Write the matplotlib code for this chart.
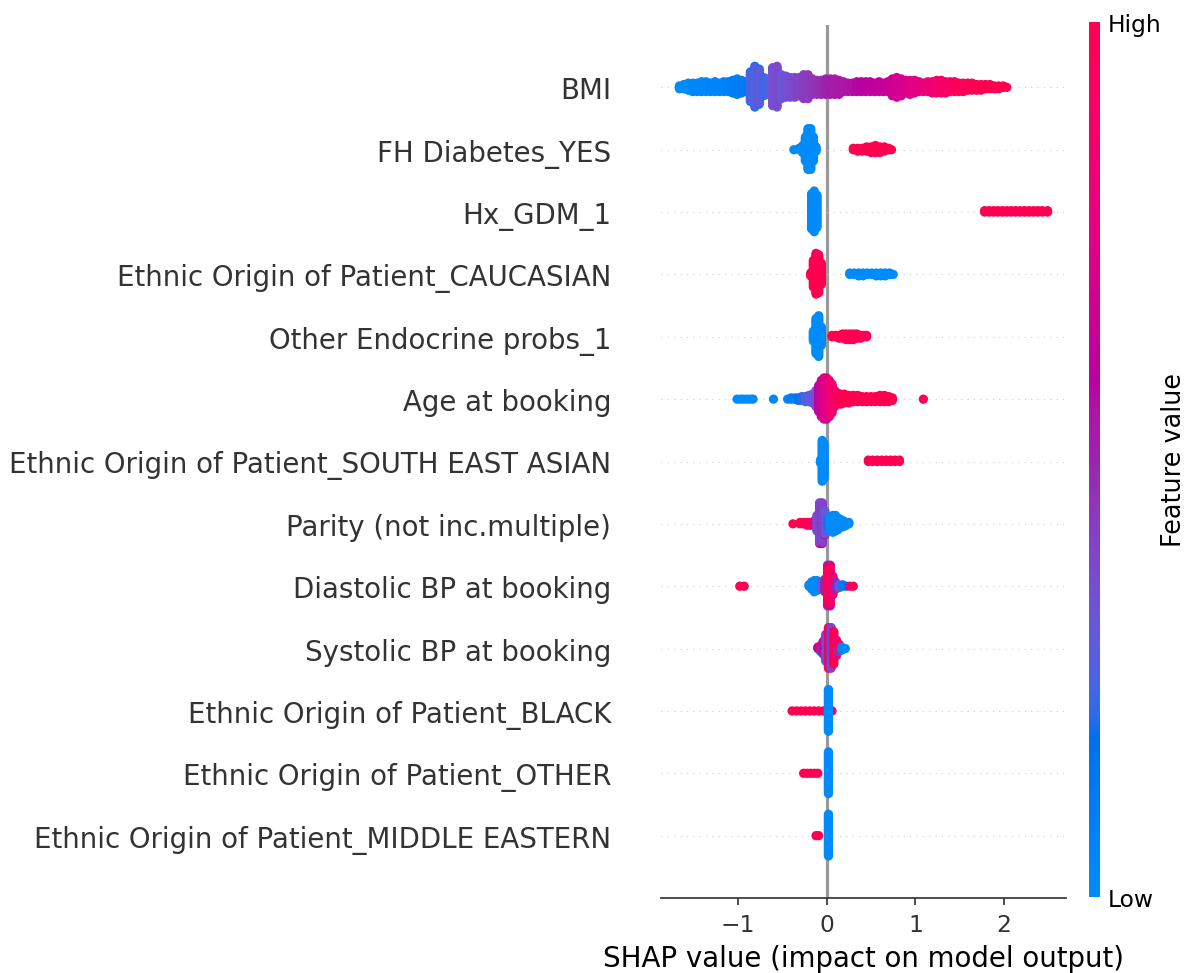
import numpy as np
import matplotlib
matplotlib.use("Agg")
import matplotlib.pyplot as plt
from matplotlib.colors import LinearSegmentedColormap
from matplotlib import cm

# feature names, top row first
feature_names = [
    "BMI",
    "FH Diabetes_YES",
    "Hx_GDM_1",
    "Ethnic Origin of Patient_CAUCASIAN",
    "Other Endocrine probs_1",
    "Age at booking",
    "Ethnic Origin of Patient_SOUTH EAST ASIAN",
    "Parity (not inc.multiple)",
    "Diastolic BP at booking",
    "Systolic BP at booking",
    "Ethnic Origin of Patient_BLACK",
    "Ethnic Origin of Patient_OTHER",
    "Ethnic Origin of Patient_MIDDLE EASTERN",
]

# (shap value, number of samples, normalised feature value)
bmi = [
    (-1.66, 3, 0.0), (-1.61, 4, 0.0), (-1.56, 6, 0.0), (-1.51, 7, 0.02), (-1.46, 7, 0.02),
    (-1.41, 8, 0.03), (-1.36, 8, 0.03), (-1.31, 7, 0.04), (-1.26, 8, 0.05), (-1.21, 7, 0.05),
    (-1.16, 8, 0.06), (-1.11, 8, 0.07), (-1.06, 10, 0.08), (-1.01, 12, 0.09), (-0.96, 10, 0.10),
    (-0.91, 8, 0.12), (-0.86, 12, 0.12), (-0.86, 10, 0.25), (-0.81, 16, 0.14), (-0.81, 14, 0.28),
    (-0.76, 14, 0.16), (-0.76, 12, 0.30), (-0.71, 14, 0.22), (-0.66, 12, 0.26), (-0.61, 14, 0.25),
    (-0.61, 14, 0.35), (-0.56, 15, 0.28), (-0.56, 15, 0.38), (-0.51, 18, 0.32), (-0.46, 16, 0.35),
    (-0.41, 15, 0.36), (-0.36, 15, 0.38), (-0.31, 14, 0.40), (-0.26, 18, 0.42), (-0.21, 18, 0.43),
    (-0.16, 12, 0.45), (-0.11, 11, 0.46), (-0.06, 11, 0.48), (-0.01, 12, 0.50), (0.04, 12, 0.52),
    (0.09, 12, 0.53), (0.14, 11, 0.54), (0.19, 8, 0.55), (0.24, 7, 0.56), (0.29, 7, 0.57),
    (0.34, 8, 0.58), (0.39, 8, 0.59), (0.44, 8, 0.60), (0.49, 8, 0.61), (0.54, 7, 0.62),
    (0.59, 8, 0.63), (0.64, 7, 0.64), (0.69, 8, 0.65), (0.74, 13, 0.67), (0.79, 15, 0.68),
    (0.84, 13, 0.70), (0.89, 10, 0.72), (0.94, 11, 0.74), (0.99, 10, 0.76), (1.04, 8, 0.78),
    (1.09, 7, 0.80), (1.14, 8, 0.82), (1.19, 9, 0.84), (1.24, 10, 0.86), (1.29, 10, 0.88),
    (1.34, 9, 0.90), (1.39, 8, 0.92), (1.44, 8, 0.94), (1.49, 7, 0.95), (1.54, 7, 0.96),
    (1.59, 6, 0.97), (1.64, 6, 0.98), (1.69, 5, 0.99), (1.74, 5, 1.0), (1.79, 4, 1.0),
    (1.84, 4, 1.0), (1.89, 3, 1.0), (1.94, 3, 1.0), (1.99, 2, 1.0), (2.03, 1, 1.0),
]
fh_diabetes = [
    (-0.37, 1, 0.0), (-0.31, 2, 0.0), (-0.27, 6, 0.0), (-0.24, 18, 0.0), (-0.21, 30, 0.0),
    (-0.18, 30, 0.0), (-0.15, 18, 0.0), (-0.12, 4, 0.0),
    (0.30, 2, 1.0), (0.35, 3, 1.0), (0.40, 3, 1.0), (0.45, 4, 1.0), (0.50, 5, 1.0),
    (0.55, 6, 1.0), (0.60, 5, 1.0), (0.65, 4, 1.0), (0.70, 2, 1.0), (0.73, 1, 1.0),
]
hx_gdm = [
    (-0.17, 26, 0.0), (-0.14, 30, 0.0), (-0.11, 24, 0.0),
    (1.78, 2, 1.0), (1.83, 2, 1.0), (1.88, 2, 1.0), (1.93, 2, 1.0), (1.98, 2, 1.0),
    (2.03, 2, 1.0), (2.08, 2, 1.0), (2.13, 2, 1.0), (2.18, 2, 1.0), (2.23, 2, 1.0),
    (2.28, 2, 1.0), (2.33, 2, 1.0), (2.38, 2, 1.0), (2.43, 2, 1.0), (2.49, 2, 1.0),
]
caucasian = [
    (-0.18, 3, 1.0), (-0.15, 20, 1.0), (-0.12, 30, 1.0), (-0.09, 28, 1.0), (-0.06, 16, 1.0),
    (0.26, 2, 0.0), (0.31, 2, 0.0), (0.36, 3, 0.0), (0.41, 3, 0.0), (0.46, 2, 0.0),
    (0.51, 2, 0.0), (0.56, 3, 0.0), (0.61, 3, 0.0), (0.66, 3, 0.0), (0.71, 2, 0.0), (0.75, 1, 0.0),
]
endocrine = [
    (-0.15, 8, 0.0), (-0.12, 26, 0.0), (-0.09, 30, 0.0), (-0.06, 14, 0.0),
    (0.06, 2, 1.0), (0.10, 2, 1.0), (0.14, 3, 1.0), (0.18, 4, 1.0), (0.22, 5, 1.0),
    (0.26, 5, 1.0), (0.30, 5, 1.0), (0.34, 4, 1.0), (0.38, 3, 1.0), (0.42, 2, 1.0), (0.45, 2, 1.0),
]
age = [
    (-1.01, 1, 0.0), (-0.97, 1, 0.0), (-0.94, 1, 0.0), (-0.90, 1, 0.0), (-0.86, 1, 0.0),
    (-0.83, 1, 0.0), (-0.60, 1, 0.02), (-0.44, 1, 0.05), (-0.40, 2, 0.08), (-0.36, 2, 0.10),
    (-0.32, 3, 0.15), (-0.28, 4, 0.20), (-0.24, 5, 0.25), (-0.20, 6, 0.28), (-0.16, 8, 0.30),
    (-0.12, 14, 0.35), (-0.09, 12, 0.42), (-0.09, 10, 0.62), (-0.06, 15, 0.45), (-0.06, 15, 0.68),
    (-0.03, 17, 0.50), (-0.03, 17, 0.72), (0.00, 17, 0.55), (0.00, 17, 0.78), (0.03, 15, 0.62),
    (0.03, 15, 0.82), (0.06, 12, 0.70), (0.06, 12, 0.90), (0.09, 14, 0.85), (0.12, 10, 0.95),
    (0.16, 9, 1.0), (0.20, 8, 1.0), (0.25, 7, 1.0), (0.30, 6, 1.0), (0.35, 6, 1.0),
    (0.40, 5, 1.0), (0.45, 5, 1.0), (0.50, 5, 1.0), (0.55, 5, 1.0), (0.60, 6, 1.0),
    (0.65, 6, 1.0), (0.70, 5, 1.0), (0.74, 3, 1.0), (1.09, 1, 1.0),
]
south_east_asian = [
    (-0.07, 3, 0.0), (-0.05, 30, 0.0), (-0.03, 26, 0.0),
    (0.47, 2, 1.0), (0.52, 2, 1.0), (0.57, 2, 1.0), (0.62, 2, 1.0), (0.67, 2, 1.0),
    (0.72, 2, 1.0), (0.77, 2, 1.0), (0.82, 2, 1.0),
]
parity = [
    (-0.38, 1, 1.0), (-0.30, 2, 1.0), (-0.26, 2, 1.0), (-0.22, 3, 1.0), (-0.18, 3, 0.95),
    (-0.14, 4, 0.85), (-0.11, 6, 0.70), (-0.11, 6, 0.35), (-0.08, 15, 0.65), (-0.08, 15, 0.38),
    (-0.05, 15, 0.60), (-0.05, 15, 0.40), (-0.02, 9, 0.55), (-0.02, 9, 0.30), (0.01, 6, 0.20),
    (0.04, 10, 0.0), (0.07, 13, 0.0), (0.10, 12, 0.0), (0.13, 9, 0.0), (0.16, 6, 0.0),
    (0.19, 5, 0.0), (0.22, 3, 0.0), (0.25, 2, 0.0),
]
diastolic = [
    (-0.98, 1, 1.0), (-0.93, 1, 1.0), (-0.20, 2, 0.0), (-0.17, 6, 0.0), (-0.14, 9, 0.0),
    (-0.11, 8, 0.0), (-0.08, 6, 0.05), (-0.05, 6, 0.30), (-0.02, 10, 0.50), (0.01, 12, 0.45),
    (0.01, 10, 0.75), (0.01, 8, 1.0), (0.04, 12, 0.55), (0.04, 10, 0.80), (0.04, 8, 0.95),
    (0.07, 8, 0.60), (0.07, 6, 0.90), (0.10, 6, 0.50), (0.14, 3, 0.30), (0.18, 2, 0.10),
    (0.22, 1, 0.15), (0.26, 1, 0.85), (0.30, 1, 1.0),
]
systolic = [
    (-0.10, 2, 0.60), (-0.07, 3, 0.10), (-0.07, 2, 0.80), (-0.04, 5, 0.05), (-0.04, 5, 0.70),
    (-0.01, 7, 0.05), (-0.01, 7, 0.65), (-0.01, 6, 0.30), (0.02, 10, 0.08), (0.02, 10, 0.70),
    (0.02, 10, 0.95), (0.05, 10, 0.15), (0.05, 10, 0.75), (0.05, 10, 0.40), (0.08, 8, 0.10),
    (0.08, 8, 0.80), (0.08, 8, 1.0), (0.11, 6, 0.05), (0.11, 6, 0.90), (0.14, 3, 0.10),
    (0.14, 3, 0.95), (0.17, 3, 0.05), (0.21, 1, 0.0),
]
black = [
    (-0.39, 1, 1.0), (-0.34, 1, 1.0), (-0.29, 1, 1.0), (-0.24, 1, 1.0), (-0.19, 1, 1.0),
    (-0.14, 1, 1.0), (-0.09, 1, 1.0), (-0.04, 1, 1.0), (0.06, 1, 1.0),
    (0.02, 40, 0.0),
]
other = [
    (-0.26, 1, 1.0), (-0.22, 1, 1.0), (-0.18, 1, 1.0), (-0.14, 1, 1.0), (-0.10, 1, 1.0),
    (0.02, 40, 0.0),
]
middle_eastern = [
    (-0.12, 1, 1.0), (-0.09, 1, 1.0),
    (0.02, 40, 0.0),
]

rows = [bmi, fh_diabetes, hx_gdm, caucasian, endocrine, age, south_east_asian,
        parity, diastolic, systolic, black, other, middle_eastern]


def lch_to_rgb(l, c, h):
    # CIE LCh -> Lab -> XYZ (D65) -> sRGB
    a, b = c * np.cos(h), c * np.sin(h)
    fy = (l + 16) / 116
    fx = fy + a / 500
    fz = fy - b / 200
    f = np.array([fx, fy, fz])
    xyz = np.where(f ** 3 > 0.008856, f ** 3, (f - 16 / 116) / 7.787)
    xyz *= np.array([0.95047, 1.0, 1.08883])
    m = np.array([[3.2406, -1.5372, -0.4986],
                  [-0.9689, 1.8758, 0.0415],
                  [0.0557, -0.2040, 1.0570]])
    lin = m @ xyz
    rgb = np.where(lin > 0.0031308, 1.055 * np.abs(lin) ** (1 / 2.4) - 0.055, 12.92 * lin)
    return np.clip(rgb, 0, 1)


# blue -> purple -> red map built in LCh space
nsteps = 100
l_vals = list(np.linspace(54.0, 40.0, nsteps // 2)) + list(np.linspace(40.0, 54.0, nsteps // 2))
c_vals = np.linspace(70.0, 90.0, nsteps)
h_vals = np.linspace(4.6588, 0.35470565 + 2 * np.pi, nsteps)
red_blue = LinearSegmentedColormap.from_list(
    "red_blue", [lch_to_rgb(l, c, h) for l, c, h in zip(l_vals, c_vals, h_vals)])


def beeswarm(entries, row_height=0.4, nbins=100):
    shaps, vals, k, idx = [], [], [], []
    for i, (x, n, v) in enumerate(entries):
        shaps += [x] * n
        vals += [v] * n
        k += list(range(n))
        idx += [i] * n
    shaps, vals, k, idx = map(np.array, (shaps, vals, k, idx))
    quant = np.round(nbins * (shaps - shaps.min()) / (shaps.max() - shaps.min() + 1e-8))
    order = np.lexsort((k, idx, k // 2, quant))
    ys = np.zeros(len(shaps))
    layer, last_bin = 0, -1
    for ind in order:
        if quant[ind] != last_bin:
            layer = 0
        ys[ind] = np.ceil(layer / 2) * ((layer % 2) * 2 - 1)
        layer += 1
        last_bin = quant[ind]
    ys *= 0.9 * (row_height / np.max(ys + 1))
    return shaps, ys, vals


axis_color = "#333333"
dpi = 153
fig = plt.figure(figsize=(1192 / dpi, 974 / dpi), dpi=dpi)
ax = fig.add_axes([661 / 1192, 1 - 899 / 974, 405 / 1192, 873 / 974])

n = len(feature_names)
ax.axvline(x=0, color="#999999", zorder=-1)
for i, entries in enumerate(rows):
    pos = n - 1 - i
    ax.axhline(y=pos, color="#cccccc", lw=0.5, dashes=(1, 5), zorder=-1)
    xs, ys, vals = beeswarm(entries)
    ax.scatter(xs, pos + ys, c=vals, cmap=red_blue, vmin=0, vmax=1, s=19,
               alpha=1, linewidth=0, zorder=3, rasterized=True)

ax.set_yticks(range(n))
ax.set_yticklabels(feature_names[::-1], fontsize=13)
ax.set_ylim(-1, n)
ax.xaxis.set_ticks_position("bottom")
ax.yaxis.set_ticks_position("none")
for side in ("right", "top", "left"):
    ax.spines[side].set_visible(False)
ax.spines["bottom"].set_color(axis_color)
ax.tick_params(color=axis_color, labelcolor=axis_color)
ax.tick_params("y", length=20, width=0.5, which="major")
ax.tick_params("x", labelsize=11)
ax.set_xlabel("SHAP value (impact on model output)", fontsize=13)

cax = fig.add_axes([1089 / 1192, 1 - 898 / 974, 11 / 1192, 875 / 974])
m = cm.ScalarMappable(cmap=red_blue)
m.set_array([0, 1])
cb = fig.colorbar(m, cax=cax, ticks=[0, 1])
cb.set_ticklabels(["Low", "High"])
cb.set_label("Feature value", size=12, labelpad=0)
cb.ax.tick_params(labelsize=11, length=0)
cb.set_alpha(1)
cb.outline.set_visible(False)

fig.savefig("out.png", dpi=dpi)
